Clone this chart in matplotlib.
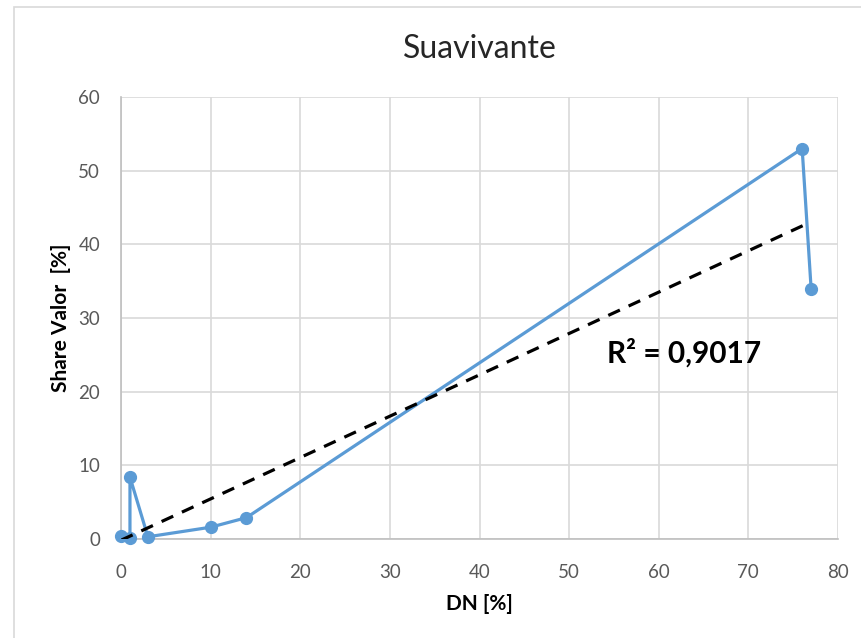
import numpy as np
import matplotlib
matplotlib.use("Agg")
import matplotlib.pyplot as plt
from matplotlib.patches import Rectangle

plt.rcParams['font.family'] = ['Lato', 'DejaVu Sans']

# data (x = DN %, y = share valor %)
dn = [0, 1, 1, 3, 10, 14, 76, 77]
share = [0.4, 0.2, 8.4, 0.3, 1.6, 2.9, 53.0, 34.0]
title = "Suavivante"
r2_text = "R² = 0,9017"
xticks = [0, 10, 20, 30, 40, 50, 60, 70, 80]
yticks = [0, 10, 20, 30, 40, 50, 60]

W, H = 861, 638
fig = plt.figure(figsize=(W / 100, H / 100), dpi=100)
ax = fig.add_axes([121 / W, 1 - 539 / H, (838 - 121) / W, (539 - 97) / H])

# outer chart border (Excel style), runs off the right/bottom edge
fig.patches.append(Rectangle((14 / W, -0.1), 1.2, 1 - 7 / H + 0.1,
                             transform=fig.transFigure, fill=False,
                             edgecolor='#D9D9D9', linewidth=1.2))

blue = '#5B9BD5'
ax.plot(dn, share, color=blue, lw=2.3, marker='o', ms=8.5, zorder=3,
        solid_joinstyle='round', clip_on=False)

# linear trendline
coef = np.polyfit(dn, share, 1)
xs = np.array([min(dn), max(dn)])
ax.plot(xs, np.polyval(coef, xs), color='black', lw=2.3, ls=(0, (4, 3)), zorder=4)

ax.text(0.785, 0.42, r2_text, transform=ax.transAxes, ha='center', va='center',
        fontsize=21.5, fontweight='bold', color='black')

ax.set_xlim(0, 80)
ax.set_ylim(0, 60)
ax.set_xticks(xticks)
ax.set_yticks(yticks)
ax.grid(True, color='#D9D9D9', lw=1.2)
ax.set_axisbelow(True)
for s in ['top', 'right']:
    ax.spines[s].set_visible(False)
for s in ['left', 'bottom']:
    ax.spines[s].set_color('#BFBFBF')
    ax.spines[s].set_linewidth(1.2)
ax.tick_params(length=0, labelsize=13.5, labelcolor='#595959')
ax.tick_params(axis='x', pad=18)
ax.tick_params(axis='y', pad=15)

ax.set_title(title, fontsize=23, color='#262626', pad=28)
ax.set_xlabel("DN [%]", fontsize=15, fontweight='bold', color='black', labelpad=9)
ax.set_ylabel("Share Valor  [%]", fontsize=15, fontweight='bold', color='black', labelpad=5)

fig.savefig("out.png", dpi=100)
